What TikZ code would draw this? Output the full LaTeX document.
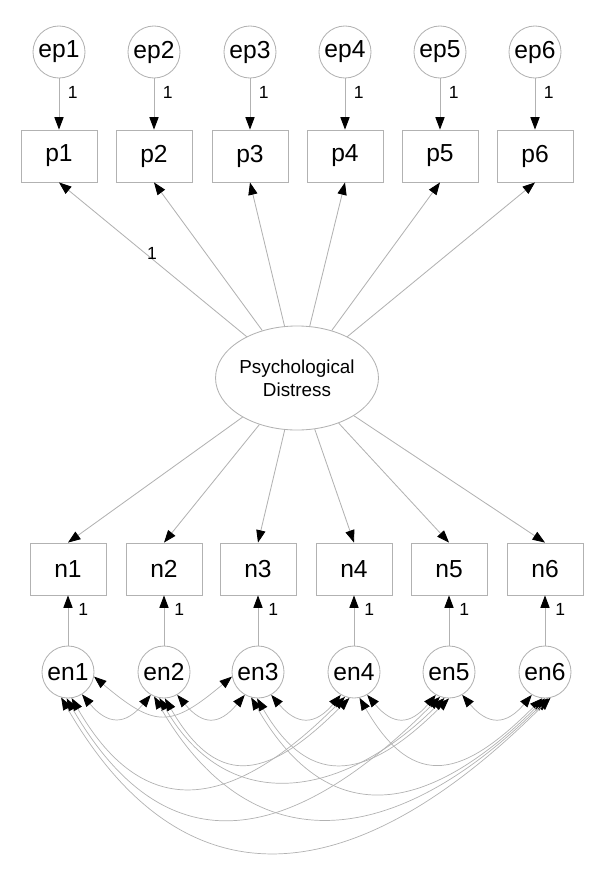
\documentclass[tikz,border=0pt]{standalone}
\usepackage{fontspec}
\setmainfont{Liberation Sans}
\usetikzlibrary{arrows.meta, shapes.geometric}
\definecolor{amosgray}{RGB}{178,178,178}

\begin{document}
\begin{tikzpicture}[x=0.025cm, y=-0.025cm,
    >={Triangle[length=0.31cm, width=0.23cm, color=black]},
    every node/.style={font=\fontsize{17.5}{20}\selectfont},
    errvar/.style={circle, draw=amosgray, line width=0.6pt, minimum size=1.3cm, inner sep=0pt},
    item/.style={rectangle, draw=amosgray, line width=0.6pt, minimum width=1.9cm, minimum height=1.3cm, inner sep=0pt},
    factor/.style={ellipse, draw=amosgray, line width=0.6pt, minimum width=3.85cm, minimum height=2.6cm,
                   inner sep=0pt, align=center, font=\fontsize{13.4}{16.6}\selectfont},
    load/.style={->, draw=amosgray, line width=0.6pt},
    cov/.style={<->, draw=amosgray, line width=0.5pt},
    wt/.style={font=\fontsize{12.5}{14}\selectfont, inner sep=1pt}]
  \useasboundingbox (0,0) rectangle (600,869);

  % Error terms of the positive items
  \node[errvar] (ep1) at ( 59, 52) {ep1};
  \node[errvar] (ep2) at (154, 52) {ep2};
  \node[errvar] (ep3) at (250, 52) {ep3};
  \node[errvar] (ep4) at (345, 52) {ep4};
  \node[errvar] (ep5) at (440, 52) {ep5};
  \node[errvar] (ep6) at (535, 52) {ep6};

  % Positive items
  \node[item] (p1) at ( 59, 156) {p1};
  \node[item] (p2) at (154, 156) {p2};
  \node[item] (p3) at (250, 156) {p3};
  \node[item] (p4) at (345, 156) {p4};
  \node[item] (p5) at (440, 156) {p5};
  \node[item] (p6) at (535, 156) {p6};

  % Latent factor
  \node[factor] (distress) at (297, 378) {Psychological\\Distress};

  % Negative items
  \node[item] (n1) at ( 68, 569) {n1};
  \node[item] (n2) at (164, 569) {n2};
  \node[item] (n3) at (258, 569) {n3};
  \node[item] (n4) at (354, 569) {n4};
  \node[item] (n5) at (449, 569) {n5};
  \node[item] (n6) at (545, 569) {n6};

  % Error terms of the negative items
  \node[errvar] (en1) at ( 68, 672) {en1};
  \node[errvar] (en2) at (164, 672) {en2};
  \node[errvar] (en3) at (258, 672) {en3};
  \node[errvar] (en4) at (354, 672) {en4};
  \node[errvar] (en5) at (449, 672) {en5};
  \node[errvar] (en6) at (545, 672) {en6};

  % Error paths (top)
  \draw[load] (ep1) -- (p1) node[wt, pos=0.27, right=5pt] {1};
  \draw[load] (ep2) -- (p2) node[wt, pos=0.27, right=5pt] {1};
  \draw[load] (ep3) -- (p3) node[wt, pos=0.27, right=5pt] {1};
  \draw[load] (ep4) -- (p4) node[wt, pos=0.27, right=5pt] {1};
  \draw[load] (ep5) -- (p5) node[wt, pos=0.27, right=5pt] {1};
  \draw[load] (ep6) -- (p6) node[wt, pos=0.27, right=5pt] {1};

  % Loadings
  \draw[load] (distress) -- (p1.south) node[wt, pos=0.54, anchor=west] {1};
  \draw[load] (distress) -- (p2.south);
  \draw[load] (distress) -- (p3.south);
  \draw[load] (distress) -- (p4.south);
  \draw[load] (distress) -- (p5.south);
  \draw[load] (distress) -- (p6.south);
  \draw[load] (distress) -- (n1.north);
  \draw[load] (distress) -- (n2.north);
  \draw[load] (distress) -- (n3.north);
  \draw[load] (distress) -- (n4.north);
  \draw[load] (distress) -- (n5.north);
  \draw[load] (distress) -- (n6.north);

  % Error paths (bottom)
  \draw[load] (en1) -- (n1) node[wt, pos=0.725, right=6pt] {1};
  \draw[load] (en2) -- (n2) node[wt, pos=0.725, right=6pt] {1};
  \draw[load] (en3) -- (n3) node[wt, pos=0.725, right=6pt] {1};
  \draw[load] (en4) -- (n4) node[wt, pos=0.725, right=6pt] {1};
  \draw[load] (en5) -- (n5) node[wt, pos=0.725, right=6pt] {1};
  \draw[load] (en6) -- (n6) node[wt, pos=0.725, right=6pt] {1};

  % Covariances, neighbours
  \draw[cov] (en1.-58) to[out=-50, in=-130, distance=1cm] (en2.-120);
  \draw[cov] (en2.-60) to[out=-50, in=-130, distance=1cm] (en3.-120);
  \draw[cov] (en3.-60) to[out=-50, in=-130, distance=1cm] (en4.-120);
  \draw[cov] (en4.-60) to[out=-50, in=-130, distance=1cm] (en5.-120);
  \draw[cov] (en5.-60) to[out=-50, in=-130, distance=1cm] (en6.-120);

  % Covariances, longer
  \draw[cov] (en1.-10)  to[out=-40, in=-140, distance=2cm]    (en3.190);
  \draw[cov] (en2.-88)  to[out=-60, in=-135, distance=2.75cm] (en4.-100);
  \draw[cov] (en3.-92)  to[out=-60, in=-135, distance=2.75cm] (en5.-90);
  \draw[cov] (en4.-78)  to[out=-60, in=-135, distance=2.75cm] (en6.-96);
  \draw[cov] (en1.-82)  to[out=-60, in=-135, distance=3.8cm]  (en4.-110);
  \draw[cov] (en2.-100) to[out=-60, in=-135, distance=3.5cm]  (en5.-100);
  \draw[cov] (en3.-105) to[out=-60, in=-135, distance=4cm]    (en6.-90);
  \draw[cov] (en1.-93)  to[out=-60, in=-135, distance=5.1cm]  (en5.-110);
  \draw[cov] (en2.-112) to[out=-60, in=-135, distance=5.1cm]  (en6.-84);
  \draw[cov] (en1.-105) to[out=-60, in=-135, distance=6.5cm]  (en6.-78);
\end{tikzpicture}
\end{document}
